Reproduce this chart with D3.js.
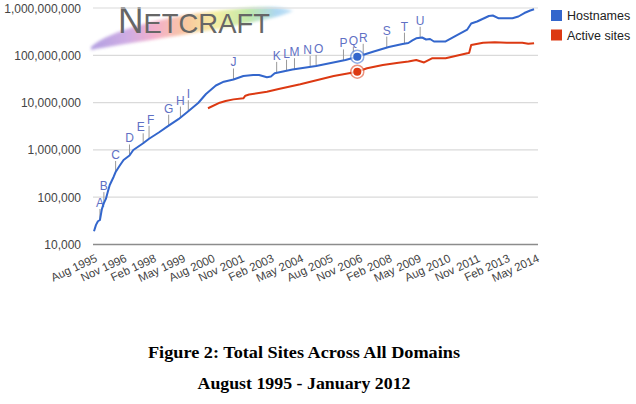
<!DOCTYPE html>
<html><head><meta charset="utf-8">
<script src="https://cdn.jsdelivr.net/npm/d3@7"></script>
<style>body{margin:0;background:#fff}svg{display:block}</style>
</head><body><svg id="c" width="636" height="404"></svg>
<script>
const hostDates = ["1995-08","1995-09","1995-10","1995-11","1995-12","1996-01","1996-02","1996-03","1996-04","1996-06","1996-07","1996-09","1996-11","1997-02","1997-04","1997-09","1997-12","1998-05","1998-10","1999-03","1999-08","2000-01","2000-05","2000-10","2001-02","2001-07","2001-12","2002-05","2002-08","2002-12","2003-02","2003-04","2004-01","2005-01","2005-11","2006-04","2006-10","2007-06","2008-02","2008-09","2008-12","2009-02","2009-04","2009-07","2009-09","2009-11","2010-01","2010-07","2011-01","2011-06","2011-08","2011-11","2012-05","2012-07","2012-10","2013-05","2013-08","2013-11","2014-02","2014-04"];
const hostValues = [19000,26000,31000,33000,56000,75000,92000,129000,181000,271000,341000,461000,611000,762000,995000,1380000,1720000,2330000,3250000,4460000,6570000,9820000,15200000,23000000,27700000,30800000,36500000,38300000,38300000,34300000,35600000,41600000,50100000,59400000,72100000,79600000,93400000,119000000,150000000,173000000,182000000,206000000,229000000,238000000,216000000,221000000,196000000,196000000,269000000,351000000,470000000,518000000,678000000,694000000,606000000,606000000,661000000,783000000,885000000,938000000];

const activeDates = ["2000-06","2000-12","2001-03","2001-07","2001-12","2002-01","2002-03","2002-12","2003-06","2004-05","2005-10","2006-10","2007-03","2007-11","2008-07","2008-12","2009-04","2009-08","2009-12","2010-07","2011-06","2011-07","2011-08","2012-02","2012-08","2013-02","2013-10","2014-01","2014-04"];
const activeValues = [7600000,9960000,10800000,11700000,12300000,14000000,14800000,17000000,19300000,24400000,36500000,45000000,53100000,62400000,69800000,74000000,79600000,70500000,86500000,86500000,110000000,113000000,165000000,185000000,188000000,185000000,185000000,175000000,180000000];

const tickDates = ["1995-08","1996-11","1998-02","1999-05","2000-08","2001-11","2003-02","2004-05","2005-08","2006-11","2008-02","2009-05","2010-08","2011-11","2013-02","2014-05"];
const tickLabels = ["Aug 1995","Nov 1996","Feb 1998","May 1999","Aug 2000","Nov 2001","Feb 2003","May 2004","Aug 2005","Nov 2006","Feb 2008","May 2009","Aug 2010","Nov 2011","Feb 2013","May 2014"];
const yTicks = [10000,100000,1000000,10000000,100000000,1000000000];

const noteLetters = ["A","B","C","D","E","F","G","H","I","J","K","L","M","N","O","P","Q","R","S","T","U"];
const noteDates = ["1995-11","1996-01","1996-07","1997-02","1997-09","1997-12","1998-10","1999-04","1999-08","2001-07","2003-05","2003-10","2004-02","2004-10","2005-01","2006-03","2006-08","2007-01","2008-01","2008-10","2009-06"];
const focusDate = "2006-10";

const seriesNames = ["Hostnames","Active sites"];
const seriesColors = ["#3366cc","#dc3912"];
const captionLines = ["Figure 2: Total Sites Across All Domains","August 1995 - January 2012"];

const parse = d3.timeParse("%Y-%m");
const svg = d3.select("#c");

const x = d3.scaleTime().domain([parse("1995-08"), parse("2014-05")]).range([94, 536]);
const y = d3.scaleLog().domain([1e4, 1e9]).range([244.5, 8]);

// logo
const defs = svg.append("defs");
const grad = defs.append("linearGradient").attr("id","rb").attr("x1","0%").attr("x2","100%").attr("y1","0%").attr("y2","0%");
[["0%","#a58fdc"],["18%","#c79fe0"],["32%","#f2a3c2"],["48%","#f8c08e"],["62%","#f3ec94"],["78%","#b5e49c"],["92%","#9fd0f0"],["100%","#c0e0f6"]].forEach(s=>grad.append("stop").attr("offset",s[0]).attr("stop-color",s[1]));
defs.append("filter").attr("id","bl").append("feGaussianBlur").attr("stdDeviation",1.4);
const logo = svg.append("g");
logo.append("path")
  .attr("d","M91,47 C108,31 165,15 235,9 C260,6 282,6 293,11 C282,17 252,22 222,28 C172,37 122,44 91,50 Z")
  .attr("fill","url(#rb)").attr("opacity",0.85).attr("filter","url(#bl)");
const lt = logo.append("text").attr("x",118).attr("y",33).attr("fill","#666")
  .attr("font-family","Liberation Sans, Arial, sans-serif").attr("textLength",152).attr("lengthAdjust","spacingAndGlyphs");
lt.append("tspan").attr("font-size",36).text("N");
lt.append("tspan").attr("font-size",28).text("ETCRAFT");

// grid
const grid = svg.append("g");
yTicks.forEach((t,i)=>{
  grid.append("line").attr("x1",93).attr("x2",538).attr("y1",y(t)).attr("y2",y(t))
    .attr("stroke", i===0 ? "#8c8c8c" : "#dadada").attr("stroke-width", i===0 ? 1.6 : 1.2);
  grid.append("text").attr("x",81).attr("y",y(t)+4.5).attr("text-anchor","end")
    .attr("font-family","Liberation Sans, Arial, sans-serif").attr("font-size",12).attr("fill","#444")
    .text(d3.format(",")(t));
});

// x labels
const xl = svg.append("g");
tickDates.forEach((d,i)=>{
  const tx = x(parse(d));
  xl.append("text").attr("transform",`translate(${tx+4},261) rotate(-25)`).attr("text-anchor","end")
    .attr("font-family","Liberation Sans, Arial, sans-serif").attr("font-size",11.5).attr("fill","#444")
    .text(tickLabels[i]);
});

const host = hostDates.map((d,i)=>({date:parse(d), v:hostValues[i]}));
const active = activeDates.map((d,i)=>({date:parse(d), v:activeValues[i]}));
const line = d3.line().x(d=>x(d.date)).y(d=>y(d.v));

function yAt(series, date){
  const i = d3.bisector(d=>d.date).right(series, date);
  if (i<=0) return y(series[0].v);
  if (i>=series.length) return y(series[series.length-1].v);
  const a=series[i-1], b=series[i];
  const t=(x(date)-x(a.date))/(x(b.date)-x(a.date));
  return y(a.v)+(y(b.v)-y(a.v))*t;
}

// annotations (small nudges keep neighbouring letters from colliding)
const nudge = {E:[-2.5,1], F:[1.5,-2], N:[-2.5,0], O:[2.5,0]};
const ann = svg.append("g");
noteDates.forEach((d,i)=>{
  const dt = parse(d), ax = x(dt), ay = yAt(host, dt);
  const L = noteLetters[i], n = nudge[L] || [0,0];
  ann.append("line").attr("x1",ax).attr("x2",ax).attr("y1",ay).attr("y2",ay-11+n[1]).attr("stroke","#999").attr("stroke-width",1);
  ann.append("text").attr("x",ax+n[0]).attr("y",ay-13+n[1]).attr("text-anchor","middle")
    .attr("font-family","Liberation Sans, Arial, sans-serif").attr("font-size",12).attr("fill","#6070c4")
    .text(L);
});

[active, host].forEach((s,k)=>{
  svg.append("path").datum(s).attr("d",line).attr("fill","none")
    .attr("stroke", seriesColors[1-k]).attr("stroke-width",2).attr("stroke-linejoin","round");
});

// focus markers
const fd = parse(focusDate);
[host, active].forEach((s,k)=>{
  const fx = x(fd), fy = yAt(s, fd);
  svg.append("circle").attr("cx",fx).attr("cy",fy).attr("r",6.5).attr("fill","#fff").attr("fill-opacity",0.7)
    .attr("stroke",seriesColors[k]).attr("stroke-opacity",0.55).attr("stroke-width",1.5);
  svg.append("circle").attr("cx",fx).attr("cy",fy).attr("r",4).attr("fill",seriesColors[k]);
});

// legend
seriesNames.forEach((n,i)=>{
  const ly = 10 + i*19.5;
  svg.append("rect").attr("x",551).attr("y",ly).attr("width",11).attr("height",11).attr("fill",seriesColors[i]);
  svg.append("text").attr("x",567).attr("y",ly+10).attr("font-family","Liberation Sans, Arial, sans-serif")
    .attr("font-size",12.5).attr("fill","#222").text(n);
});

// caption
const capWidths = [312, 213];
captionLines.forEach((c,i)=>{
  svg.append("text").attr("x",304).attr("y",358 + i*30.5).attr("text-anchor","middle")
    .attr("font-family","Liberation Serif, Times New Roman, serif").attr("font-weight","bold")
    .attr("font-size",17).attr("fill","#000")
    .attr("textLength",capWidths[i]).attr("lengthAdjust","spacingAndGlyphs").text(c);
});
</script></body></html>
